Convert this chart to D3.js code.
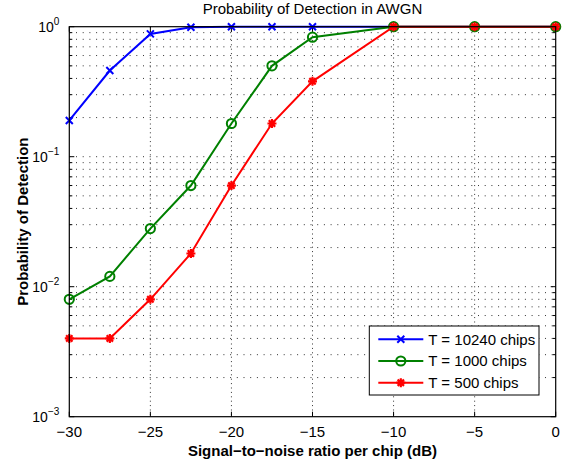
<!DOCTYPE html>
<html lang="en">
<head>
<meta charset="UTF-8">
<title>Probability of Detection in AWGN</title>
<script src="https://cdn.jsdelivr.net/npm/d3@7"></script>
<style>
  body { margin: 0; background: #fff; }
  text { font-family: "Liberation Sans", Arial, Helvetica, sans-serif; fill: #000; }
</style>
</head>
<body>
<div id="chart"></div>
<script>
// data
var snr = [-30, -27.5, -25, -22.5, -20, -17.5, -15, -10, -5, 0];
var pdT10240 = [0.19, 0.46, 0.88, 0.99, 1, 1, 1, 1, 1, 1];
var pdT1000 = [0.008, 0.012, 0.028, 0.06, 0.18, 0.5, 0.83, 1, 1, 1];
var pdT500 = [0.004, 0.004, 0.008, 0.018, 0.06, 0.18, 0.38, 1, 1, 1];
var seriesNames = ["T = 10240 chips", "T = 1000 chips", "T = 500 chips"];
var xTicks = [-30, -25, -20, -15, -10, -5, 0];
var yDecades = [-3, -2, -1, 0];

var W = 574, H = 464;
var margin = {top: 26.7, right: 18.3, bottom: 47.3, left: 69.3};
var width = W - margin.left - margin.right;
var height = H - margin.top - margin.bottom;

var svg = d3.select("#chart").append("svg")
    .attr("width", W)
    .attr("height", H);
var g = svg.append("g")
    .attr("transform", "translate(" + margin.left + "," + margin.top + ")");

var x = d3.scaleLinear().domain([-30, 0]).range([0, width]);
var y = d3.scaleLog().domain([1e-3, 1]).range([height, 0]);

// minor values for the log grid
var minorVals = [];
yDecades.slice(0, -1).forEach(function (e) {
    for (var k = 2; k <= 9; k++) minorVals.push(k * Math.pow(10, e));
});
var majorVals = yDecades.map(function (e) { return Math.pow(10, e); });

// grid (dotted)
var grid = g.append("g").attr("stroke", "#333").attr("stroke-width", 1).attr("fill", "none");
xTicks.slice(1, -1).forEach(function (t) {
    grid.append("line").attr("x1", x(t)).attr("x2", x(t)).attr("y1", 0).attr("y2", height)
        .attr("stroke-dasharray", "1,3.4");
});
minorVals.concat(majorVals.slice(1, -1)).forEach(function (v) {
    grid.append("line").attr("x1", 0).attr("x2", width).attr("y1", y(v)).attr("y2", y(v))
        .attr("stroke-dasharray", "1,5.7");
});

// inward ticks on all four sides
var ticks = g.append("g").attr("stroke", "#000").attr("stroke-width", 1);
xTicks.forEach(function (t) {
    ticks.append("line").attr("x1", x(t)).attr("x2", x(t)).attr("y1", height).attr("y2", height - 5);
    ticks.append("line").attr("x1", x(t)).attr("x2", x(t)).attr("y1", 0).attr("y2", 5);
});
majorVals.forEach(function (v) {
    ticks.append("line").attr("x1", 0).attr("x2", 5).attr("y1", y(v)).attr("y2", y(v));
    ticks.append("line").attr("x1", width).attr("x2", width - 5).attr("y1", y(v)).attr("y2", y(v));
});
minorVals.forEach(function (v) {
    ticks.append("line").attr("x1", 0).attr("x2", 3).attr("y1", y(v)).attr("y2", y(v));
    ticks.append("line").attr("x1", width).attr("x2", width - 3).attr("y1", y(v)).attr("y2", y(v));
});

// x tick labels
g.append("g").selectAll("text").data(xTicks).enter().append("text")
    .attr("x", function (d) { return x(d); })
    .attr("y", height + 20)
    .attr("text-anchor", "middle")
    .style("font-size", "15px")
    .text(function (d) { return d < 0 ? "\u2212" + Math.abs(d) : d; });

// y tick labels as 10^e
var yl = g.append("g").selectAll("text").data(yDecades).enter().append("text")
    .attr("x", -10)
    .attr("y", function (d) { return y(Math.pow(10, d)) + 5.5; })
    .attr("text-anchor", "end")
    .style("font-size", "14px");
yl.append("tspan").text("10");
yl.append("tspan").attr("dy", -7).style("font-size", "10px")
    .text(function (d) { return d < 0 ? "\u2212" + Math.abs(d) : d; });

// series
var lineGen = d3.line()
    .x(function (d) { return x(d[0]); })
    .y(function (d) { return y(d[1]); });

var series = [
    {name: seriesNames[0], values: pdT10240, color: "#0000ff", marker: "x"},
    {name: seriesNames[1], values: pdT1000, color: "#008000", marker: "o"},
    {name: seriesNames[2], values: pdT500, color: "#ff0000", marker: "*"}
];

function drawMarker(sel, type, color, cx, cy) {
    if (type === "x") {
        var s = 3.5;
        sel.append("path")
            .attr("d", "M" + (cx - s) + "," + (cy - s) + "L" + (cx + s) + "," + (cy + s) +
                 "M" + (cx - s) + "," + (cy + s) + "L" + (cx + s) + "," + (cy - s))
            .attr("stroke", color).attr("stroke-width", 2).attr("fill", "none");
    } else if (type === "o") {
        sel.append("circle").attr("cx", cx).attr("cy", cy).attr("r", 4.6)
            .attr("stroke", color).attr("stroke-width", 2).attr("fill", "none");
    } else {
        var r = 4.5, d = "";
        for (var k = 0; k < 4; k++) {
            var a = k * Math.PI / 4;
            d += "M" + (cx - r * Math.cos(a)) + "," + (cy - r * Math.sin(a)) +
                 "L" + (cx + r * Math.cos(a)) + "," + (cy + r * Math.sin(a));
        }
        sel.append("circle").attr("cx", cx).attr("cy", cy).attr("r", 2.6).attr("fill", color);
        sel.append("path").attr("d", d)
            .attr("stroke", color).attr("stroke-width", 2.2).attr("fill", "none");
    }
}

series.forEach(function (s) {
    var pts = snr.map(function (v, i) { return [v, s.values[i]]; });
    var sg = g.append("g");
    sg.append("path").datum(pts)
        .attr("d", lineGen)
        .attr("fill", "none")
        .attr("stroke", s.color)
        .attr("stroke-width", 2);
    pts.forEach(function (p) {
        drawMarker(sg, s.marker, s.color, x(p[0]), y(p[1]));
    });
});

// frame
g.append("rect").attr("width", width).attr("height", height)
    .attr("fill", "none").attr("stroke", "#000").attr("stroke-width", 1.2);

// legend
var lg = g.append("g").attr("transform", "translate(" + (369.3 - margin.left) + "," + (326 - margin.top) + ")");
lg.append("rect").attr("width", 169.7).attr("height", 69)
    .attr("fill", "#fff").attr("stroke", "#000").attr("stroke-width", 1);
series.forEach(function (s, i) {
    var ly = 13.3 + i * 21.7;
    lg.append("line").attr("x1", 9).attr("x2", 54).attr("y1", ly).attr("y2", ly)
        .attr("stroke", s.color).attr("stroke-width", 2);
    drawMarker(lg, s.marker, s.color, 31.5, ly);
    lg.append("text").attr("x", 59).attr("y", ly + 5.3)
        .style("font-size", "15px")
        .text(s.name);
});

// title and axis labels
svg.append("text")
    .attr("x", margin.left + width / 2)
    .attr("y", 14)
    .attr("text-anchor", "middle")
    .style("font-size", "15px")
    .text("Probability of Detection in AWGN");

svg.append("text")
    .attr("x", margin.left + width / 2)
    .attr("y", 456)
    .attr("text-anchor", "middle")
    .style("font-size", "15px")
    .style("font-weight", "bold")
    .text("Signal\u2212to\u2212noise ratio per chip (dB)");

svg.append("text")
    .attr("transform", "translate(28," + (margin.top + height / 2) + ") rotate(-90)")
    .attr("text-anchor", "middle")
    .style("font-size", "15px")
    .style("font-weight", "bold")
    .text("Probability of Detection");
</script>
</body>
</html>
